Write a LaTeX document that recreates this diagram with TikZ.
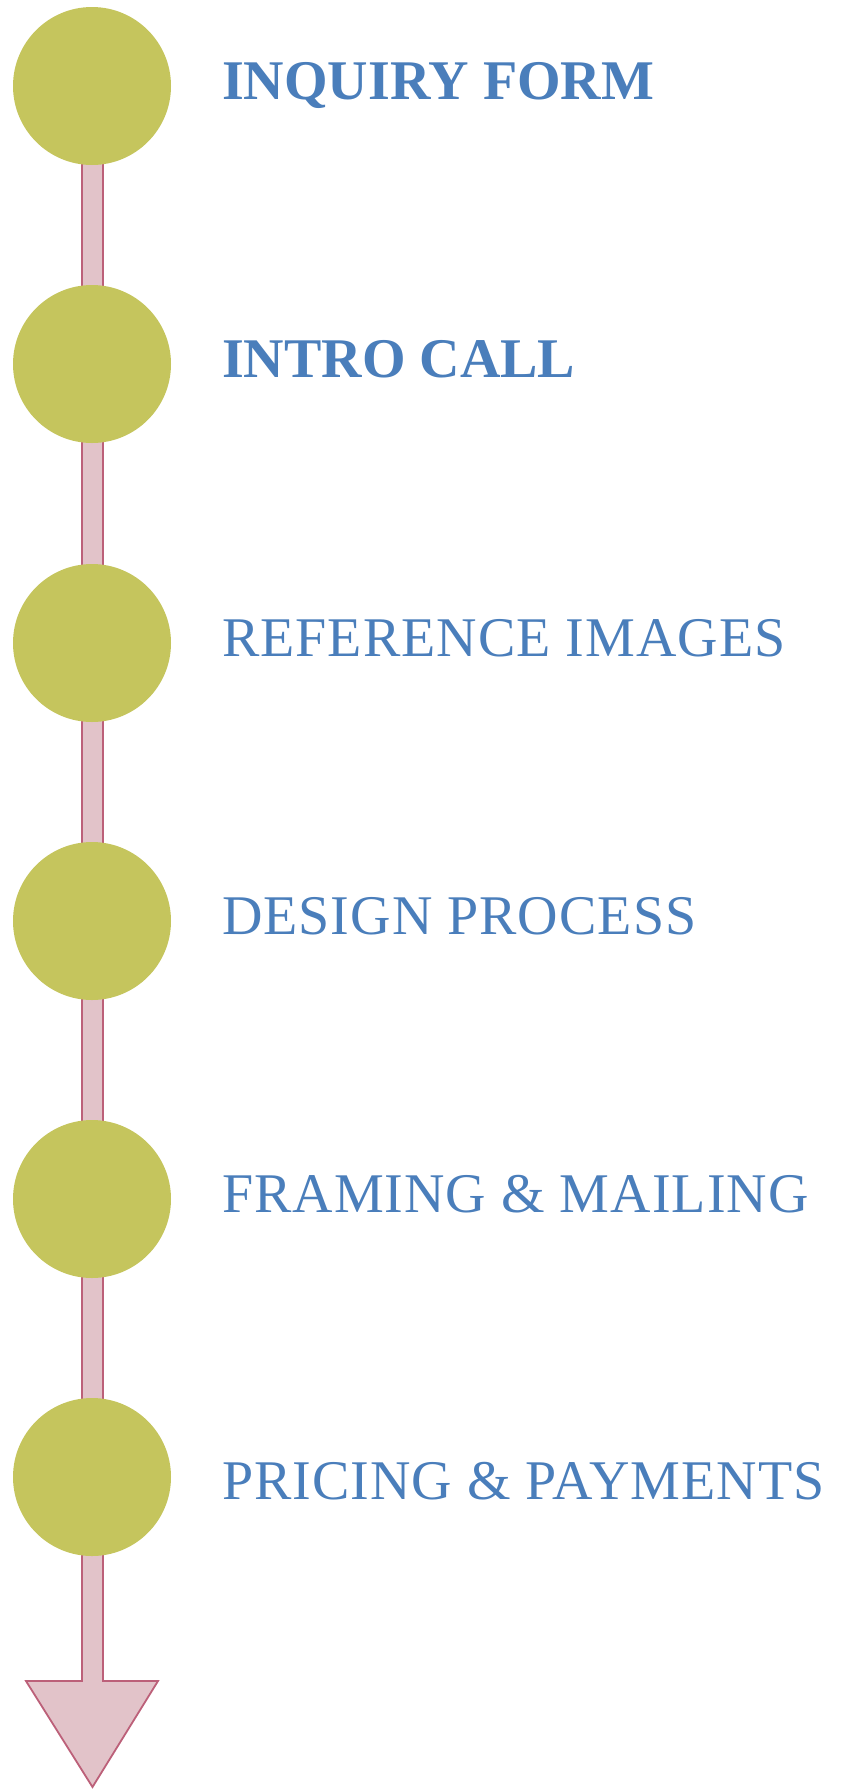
\documentclass[tikz,border=0pt]{standalone}
\usepackage{fontspec}
\setmainfont{Liberation Serif}
\newfontfamily\stepfont[LetterSpace=1.8]{Liberation Serif}
\definecolor{dotgreen}{HTML}{C5C55D}
\definecolor{shaftpink}{HTML}{E2C3C9}
\definecolor{shaftline}{HTML}{BC6079}
\definecolor{steptext}{HTML}{4A7EBB}
\tikzstyle{cgreen}=[circle, fill=dotgreen, minimum size=158pt, inner sep=0pt]
\tikzstyle{lplain}=[anchor=base west, text=steptext, inner sep=0pt, font=\stepfont\fontsize{56}{60}\selectfont]
\tikzstyle{lbold}=[anchor=base west, text=steptext, inner sep=0pt, font=\fontsize{56}{60}\selectfont\bfseries]
\tikzstyle{arrowbody}=[fill=shaftpink, draw=shaftline, line width=1.8pt, line join=miter]

\begin{document}
\begin{tikzpicture}[x=1pt, y=-1pt]
\useasboundingbox (0,0) rectangle (842,1789);

% the long arrow behind the dots
\coordinate (s1) at (82,86);
\coordinate (s2) at (82,1681);
\coordinate (h1) at (26,1681);
\coordinate (tip) at (92.5,1787);
\coordinate (h2) at (158,1681);
\coordinate (s3) at (103,1681);
\coordinate (s4) at (103,86);
\draw[arrowbody] (s1) -- (s2) -- (h1) -- (tip) -- (h2) -- (s3) -- (s4) -- cycle;

\node[cgreen] (c1) at (92,86) {};
\node[cgreen] (c2) at (92,364) {};
\node[cgreen] (c3) at (92,643) {};
\node[cgreen] (c4) at (92,921) {};
\node[cgreen] (c5) at (92,1199) {};
\node[cgreen] (c6) at (92,1477) {};

\node[lbold] (l1) at (222,99) {INQUIRY FORM};
\node[lbold] (l2) at (222,377) {INTRO CALL};
\node[lplain] (l3) at (222,656) {REFERENCE IMAGES};
\node[lplain] (l4) at (222,934) {DESIGN PROCESS};
\node[lplain] (l5) at (222,1212) {FRAMING \& MAILING};
\node[lplain] (l6) at (222,1499) {PRICING \& PAYMENTS};

\end{tikzpicture}
\end{document}
